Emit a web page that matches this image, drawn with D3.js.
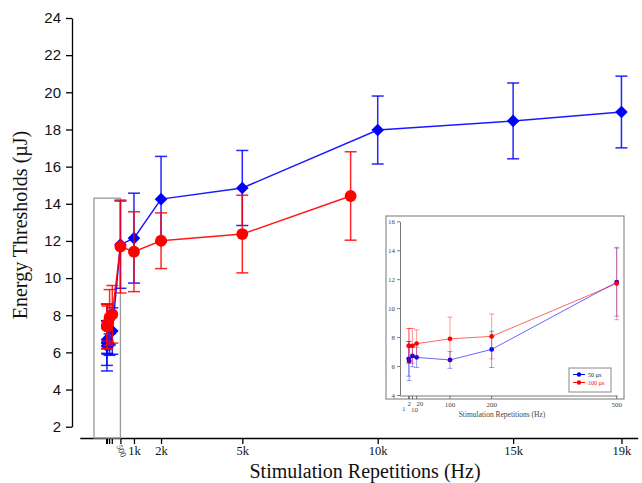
<!DOCTYPE html>
<html>
<head>
<meta charset="utf-8">
<script src="https://cdn.jsdelivr.net/npm/d3@7/dist/d3.min.js"></script>
<style>
  html, body { margin: 0; padding: 0; background: #fff; }
  svg { display: block; }
</style>
</head>
<body>
<svg id="chart" width="642" height="483"></svg>
<script>
// Stimulation frequencies (Hz) for each series
const freq50 = [1, 2, 10, 20, 100, 200, 500, 1000, 2000, 5000, 10000, 15000, 19000];
const freq100 = [1, 2, 10, 20, 100, 200, 500, 1000, 2000, 5000, 9000];

// Mean energy thresholds (µJ) and error (±)
const thr50 = [6.5, 6.35, 6.7, 6.6, 6.42, 7.15, 11.8, 12.15, 14.25, 14.85, 17.97, 18.46, 18.94];
const err50 = [1.2, 1.35, 0.75, 0.7, 0.58, 1.25, 2.35, 2.42, 2.3, 2.02, 1.83, 2.04, 1.93];
const thr100 = [7.4, 7.4, 7.4, 7.55, 7.88, 8.05, 11.7, 11.42, 12.01, 12.37, 14.42];
const err100 = [1.2, 1.2, 1.2, 0.95, 1.5, 1.55, 2.5, 2.15, 1.5, 2.09, 2.38];

// Axis ticks
const yTicks = [2, 4, 6, 8, 10, 12, 14, 16, 18, 20, 22, 24];
const xTicksMinor = [1, 2, 10, 20, 100, 200];
const xTicksMain = [500, 1000, 2000, 5000, 10000, 15000, 19000];
const xTickLabels = ["500", "1k", "2k", "5k", "10k", "15k", "19k"];

// Inset (0–500 Hz zoom)
const insetYTicks = [4, 6, 8, 10, 12, 14, 16];
const insetXTicks = [1, 2, 10, 20, 100, 200, 500];
const legendLabels = ["50 µs", "100 µs"];

const BLUE = "#0000ff", RED = "#ff0000";

const svg = d3.select("#chart");

const series50 = freq50.map((f, i) => ({ f, v: thr50[i], e: err50[i] }));
const series100 = freq100.map((f, i) => ({ f, v: thr100[i], e: err100[i] }));

// ---------- main chart ----------
const x = d3.scaleLinear().domain([-1000, 19600]).range([79.8, 637.7]);
const y = d3.scaleLinear().domain([2, 24]).range([426.7, 18]);

// y axis
const yAxis = svg.append("g")
  .attr("transform", "translate(72,0)")
  .call(d3.axisLeft(y).tickValues(yTicks).tickSize(6).tickSizeOuter(0).tickPadding(5));
yAxis.select(".domain").attr("stroke", "#000").attr("stroke-width", 1.3);
yAxis.selectAll(".tick line").attr("stroke", "#000").attr("stroke-width", 1.3);
yAxis.selectAll("text")
  .attr("font-family", "Liberation Sans, Arial, sans-serif")
  .attr("font-size", 15).attr("fill", "#111");

// x axis
const xAxisY = 438;
const xAxis = svg.append("g")
  .attr("transform", `translate(0,${xAxisY})`)
  .call(d3.axisBottom(x).tickValues(xTicksMain).tickSize(6).tickSizeOuter(0)
    .tickFormat((d, i) => xTickLabels[i]).tickPadding(2));
xAxis.select(".domain").attr("stroke", "#000").attr("stroke-width", 1.3);
xAxis.selectAll(".tick line").attr("stroke", "#000").attr("stroke-width", 1.3);
xAxis.selectAll("text")
  .attr("font-family", "Liberation Serif, Times New Roman, serif")
  .attr("font-size", 12.5).attr("fill", "#111");
// rotated 500 label
xAxis.selectAll(".tick").filter(d => d === 500).select("text")
  .attr("x", 0).attr("y", 0).attr("dy", "0.35em")
  .attr("text-anchor", "start")
  .attr("transform", "translate(-2,7) rotate(65)")
  .attr("font-size", 8.5);
// dense low-frequency ticks
svg.append("g").selectAll("line").data(xTicksMinor).join("line")
  .attr("x1", d => x(d)).attr("x2", d => x(d))
  .attr("y1", xAxisY).attr("y2", xAxisY + 6)
  .attr("stroke", "#000").attr("stroke-width", 1.3);

// axis titles
svg.append("text")
  .attr("transform", "translate(27,225) rotate(-90)")
  .attr("text-anchor", "middle")
  .attr("font-family", "Liberation Serif, Times New Roman, serif")
  .attr("font-size", 20).attr("fill", "#111")
  .text("Energy Thresholds (µJ)");
svg.append("text")
  .attr("x", 365).attr("y", 478)
  .attr("text-anchor", "middle")
  .attr("font-family", "Liberation Serif, Times New Roman, serif")
  .attr("font-size", 20).attr("fill", "#111")
  .text("Stimulation Repetitions (Hz)");

// zoom region marker (0–500 Hz)
svg.append("rect")
  .attr("x", 94).attr("y", y(14.3))
  .attr("width", x(500) - 94).attr("height", xAxisY - y(14.3))
  .attr("fill", "none").attr("stroke", "#999").attr("stroke-width", 1.3);

function drawSeries(g, data, xs, ys, color, opts) {
  const line = d3.line().x(d => xs(d.f)).y(d => ys(d.v));
  g.append("path").datum(data)
    .attr("d", line).attr("fill", "none")
    .attr("stroke", color).attr("stroke-width", opts.lw)
    .attr("stroke-opacity", opts.lineOpacity);
  const eb = g.append("g")
    .attr("stroke", color).attr("stroke-width", opts.ew)
    .attr("stroke-opacity", opts.errOpacity);
  data.forEach(d => {
    const cx = xs(d.f);
    eb.append("line").attr("x1", cx).attr("x2", cx)
      .attr("y1", ys(d.v - d.e)).attr("y2", ys(d.v + d.e));
    [d.v - d.e, d.v + d.e].forEach(v => {
      eb.append("line").attr("x1", cx - opts.cap).attr("x2", cx + opts.cap)
        .attr("y1", ys(v)).attr("y2", ys(v));
    });
  });
  const sym = d3.symbol().type(opts.symbol).size(opts.size);
  g.append("g").selectAll("path").data(data).join("path")
    .attr("transform", d => `translate(${xs(d.f)},${ys(d.v)})` + (opts.symbol === d3.symbolSquare ? " rotate(45)" : ""))
    .attr("d", sym).attr("fill", color);
}

const main = svg.append("g");
drawSeries(main, series50, x, y, BLUE,
  { lw: 1.5, ew: 1.5, cap: 6, symbol: d3.symbolSquare, size: 80, lineOpacity: 0.9, errOpacity: 0.85 });
drawSeries(main, series100, x, y, RED,
  { lw: 1.5, ew: 1.5, cap: 6, symbol: d3.symbolCircle, size: 110, lineOpacity: 0.9, errOpacity: 0.85 });

// ---------- inset ----------
const inset = svg.append("g");
inset.append("rect")
  .attr("x", 386).attr("y", 216).attr("width", 238).attr("height", 183)
  .attr("fill", "#fff").attr("stroke", "#777").attr("stroke-width", 1);

const xi = d3.scaleLinear().domain([0, 500]).range([408.3, 616.7]);
const yi = d3.scaleLinear().domain([4, 16]).range([395, 221.3]);

const serif = "Liberation Serif, Times New Roman, serif";
const yiAxis = inset.append("g").attr("transform", "translate(400,0)")
  .call(d3.axisLeft(yi).tickValues(insetYTicks).tickSize(3).tickSizeOuter(0).tickPadding(2));
yiAxis.select(".domain").attr("stroke", "#555").attr("stroke-width", 0.8);
yiAxis.selectAll(".tick line").attr("stroke", "#555").attr("stroke-width", 0.8);
yiAxis.selectAll("text").attr("font-family", serif).attr("font-size", 7).attr("fill", "#444");

const xiAxisY = 396;
inset.append("line").attr("x1", 400).attr("x2", xi(500) + 1)
  .attr("y1", xiAxisY).attr("y2", xiAxisY).attr("stroke", "#555").attr("stroke-width", 0.8);
inset.append("g").selectAll("line").data(insetXTicks).join("line")
  .attr("x1", d => xi(d)).attr("x2", d => xi(d))
  .attr("y1", xiAxisY).attr("y2", xiAxisY + 3)
  .attr("stroke", "#555").attr("stroke-width", 0.8);
// tick labels; the crowded 1–20 Hz labels are staggered
const insetLabelPos = { 1: [-5, 12], 2: [0, 7], 10: [2, 13], 20: [3, 7], 100: [0, 8], 200: [0, 8], 500: [0, 8] };
inset.append("g").selectAll("text").data(insetXTicks).join("text")
  .attr("x", d => xi(d) + insetLabelPos[d][0]).attr("y", d => xiAxisY + 3 + insetLabelPos[d][1])
  .attr("text-anchor", "middle")
  .attr("font-family", serif).attr("font-size", 7).attr("fill", "#444")
  .text(d => d);
inset.append("text").attr("x", 502).attr("y", 417).attr("text-anchor", "middle")
  .attr("font-family", serif).attr("font-size", 7.5).attr("fill", "#444")
  .text("Stimulation Repetitions (Hz)");

const inset50 = series50.filter(d => d.f <= 500);
const inset100 = series100.filter(d => d.f <= 500);
drawSeries(inset, inset50, xi, yi, BLUE,
  { lw: 1, ew: 1, cap: 2.5, symbol: d3.symbolCircle, size: 18, lineOpacity: 0.6, errOpacity: 0.4 });
drawSeries(inset, inset100, xi, yi, RED,
  { lw: 1, ew: 1, cap: 2.5, symbol: d3.symbolCircle, size: 18, lineOpacity: 0.6, errOpacity: 0.4 });

// legend
const lg = inset.append("g").attr("transform", "translate(569,368)");
lg.append("rect").attr("width", 42).attr("height", 24)
  .attr("fill", "#fff").attr("stroke", "#888").attr("stroke-width", 1);
[BLUE, RED].forEach((c, i) => {
  const ly = 6.5 + i * 8;
  lg.append("line").attr("x1", 4).attr("x2", 16).attr("y1", ly).attr("y2", ly)
    .attr("stroke", c).attr("stroke-width", 1);
  lg.append("circle").attr("cx", 10).attr("cy", ly).attr("r", 2.2).attr("fill", c);
  lg.append("text").attr("x", 19).attr("y", ly + 2.2)
    .attr("font-family", serif).attr("font-size", 6).attr("fill", c === BLUE ? "#222" : RED)
    .text(legendLabels[i]);
});
</script>
</body>
</html>
